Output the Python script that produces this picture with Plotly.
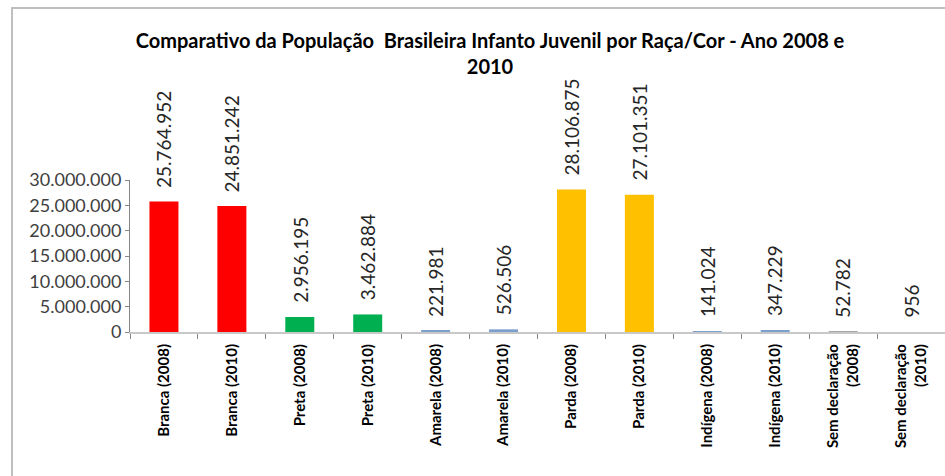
import plotly.graph_objects as go

categories = [
    "Branca (2008)", "Branca (2010)",
    "Preta (2008)", "Preta (2010)",
    "Amarela (2008)", "Amarela (2010)",
    "Parda (2008)", "Parda (2010)",
    "Indígena (2008)", "Indígena (2010)",
    "Sem declaração<br>(2008)", "Sem declaração<br>(2010)",
]
values = [25764952, 24851242, 2956195, 3462884, 221981, 526506,
          28106875, 27101351, 141024, 347229, 52782, 956]
y_ticks = [0, 5000000, 10000000, 15000000, 20000000, 25000000, 30000000]
title_text = ("Comparativo da População  Brasileira Infanto Juvenil por Raça/Cor - Ano 2008 e"
              "<br>2010")

bar_colors = ["#FF0000", "#FF0000", "#00B050", "#00B050", "#7BA0CD", "#7BA0CD",
              "#FFC000", "#FFC000", "#7BA0CD", "#7BA0CD", "#A6A6A6", "#A6A6A6"]


def fmt(v):
    return f"{v:,}".replace(",", ".")


fig = go.Figure()
fig.add_trace(go.Bar(
    x=categories, y=values,
    marker=dict(color=bar_colors, line=dict(width=0)),
    hoverinfo="skip",
))

for c, v in zip(categories, values):
    fig.add_annotation(
        x=c, y=v, xref="x", yref="y",
        text=fmt(v), textangle=-90, showarrow=False,
        yanchor="bottom", xanchor="center", yshift=12,
        font=dict(family="Lato", size=19, color="#262626"),
    )

fig.add_shape(
    type="rect", xref="paper", yref="paper",
    x0=(12 - 130) / 815, x1=1.05, y0=-1.3, y1=(332 - 8) / 152,
    line=dict(color="#BFBFBF", width=2), fillcolor="rgba(0,0,0,0)", layer="below",
)

fig.update_layout(
    width=945, height=476,
    margin=dict(l=130, r=0, t=180, b=144, pad=0),
    paper_bgcolor="white", plot_bgcolor="white",
    separators=",.",
    showlegend=False,
    bargap=0.573,
    title=dict(
        text=title_text, x=490 / 945, xanchor="center", xref="container",
        y=1 - 48 / 476, yanchor="top", yref="container",
        font=dict(family="Lato", size=20, color="#000000", weight="bold"),
    ),
    xaxis=dict(
        type="category", showgrid=False,
        showline=True, linecolor="#C8C8C8", linewidth=2,
        ticks="outside", ticklen=5, tickcolor="#868686", tickwidth=1,
        tickson="boundaries", tickangle=-90, ticklabelstandoff=4,
        tickfont=dict(family="Lato", size=15, color="#000000", weight="bold"),
    ),
    yaxis=dict(
        range=[0, 30000000], tickvals=y_ticks, tickformat=",d",
        showgrid=False, zeroline=False,
        showline=True, linecolor="#868686", linewidth=1,
        ticks="outside", ticklen=4, tickcolor="#868686",
        tickfont=dict(family="Lato", size=18, color="#404040"),
    ),
)

fig.write_html(
    "out.html",
    config={"displayModeBar": False},
    post_script="document.body.style.margin='0';document.body.style.overflow='hidden';",
)
